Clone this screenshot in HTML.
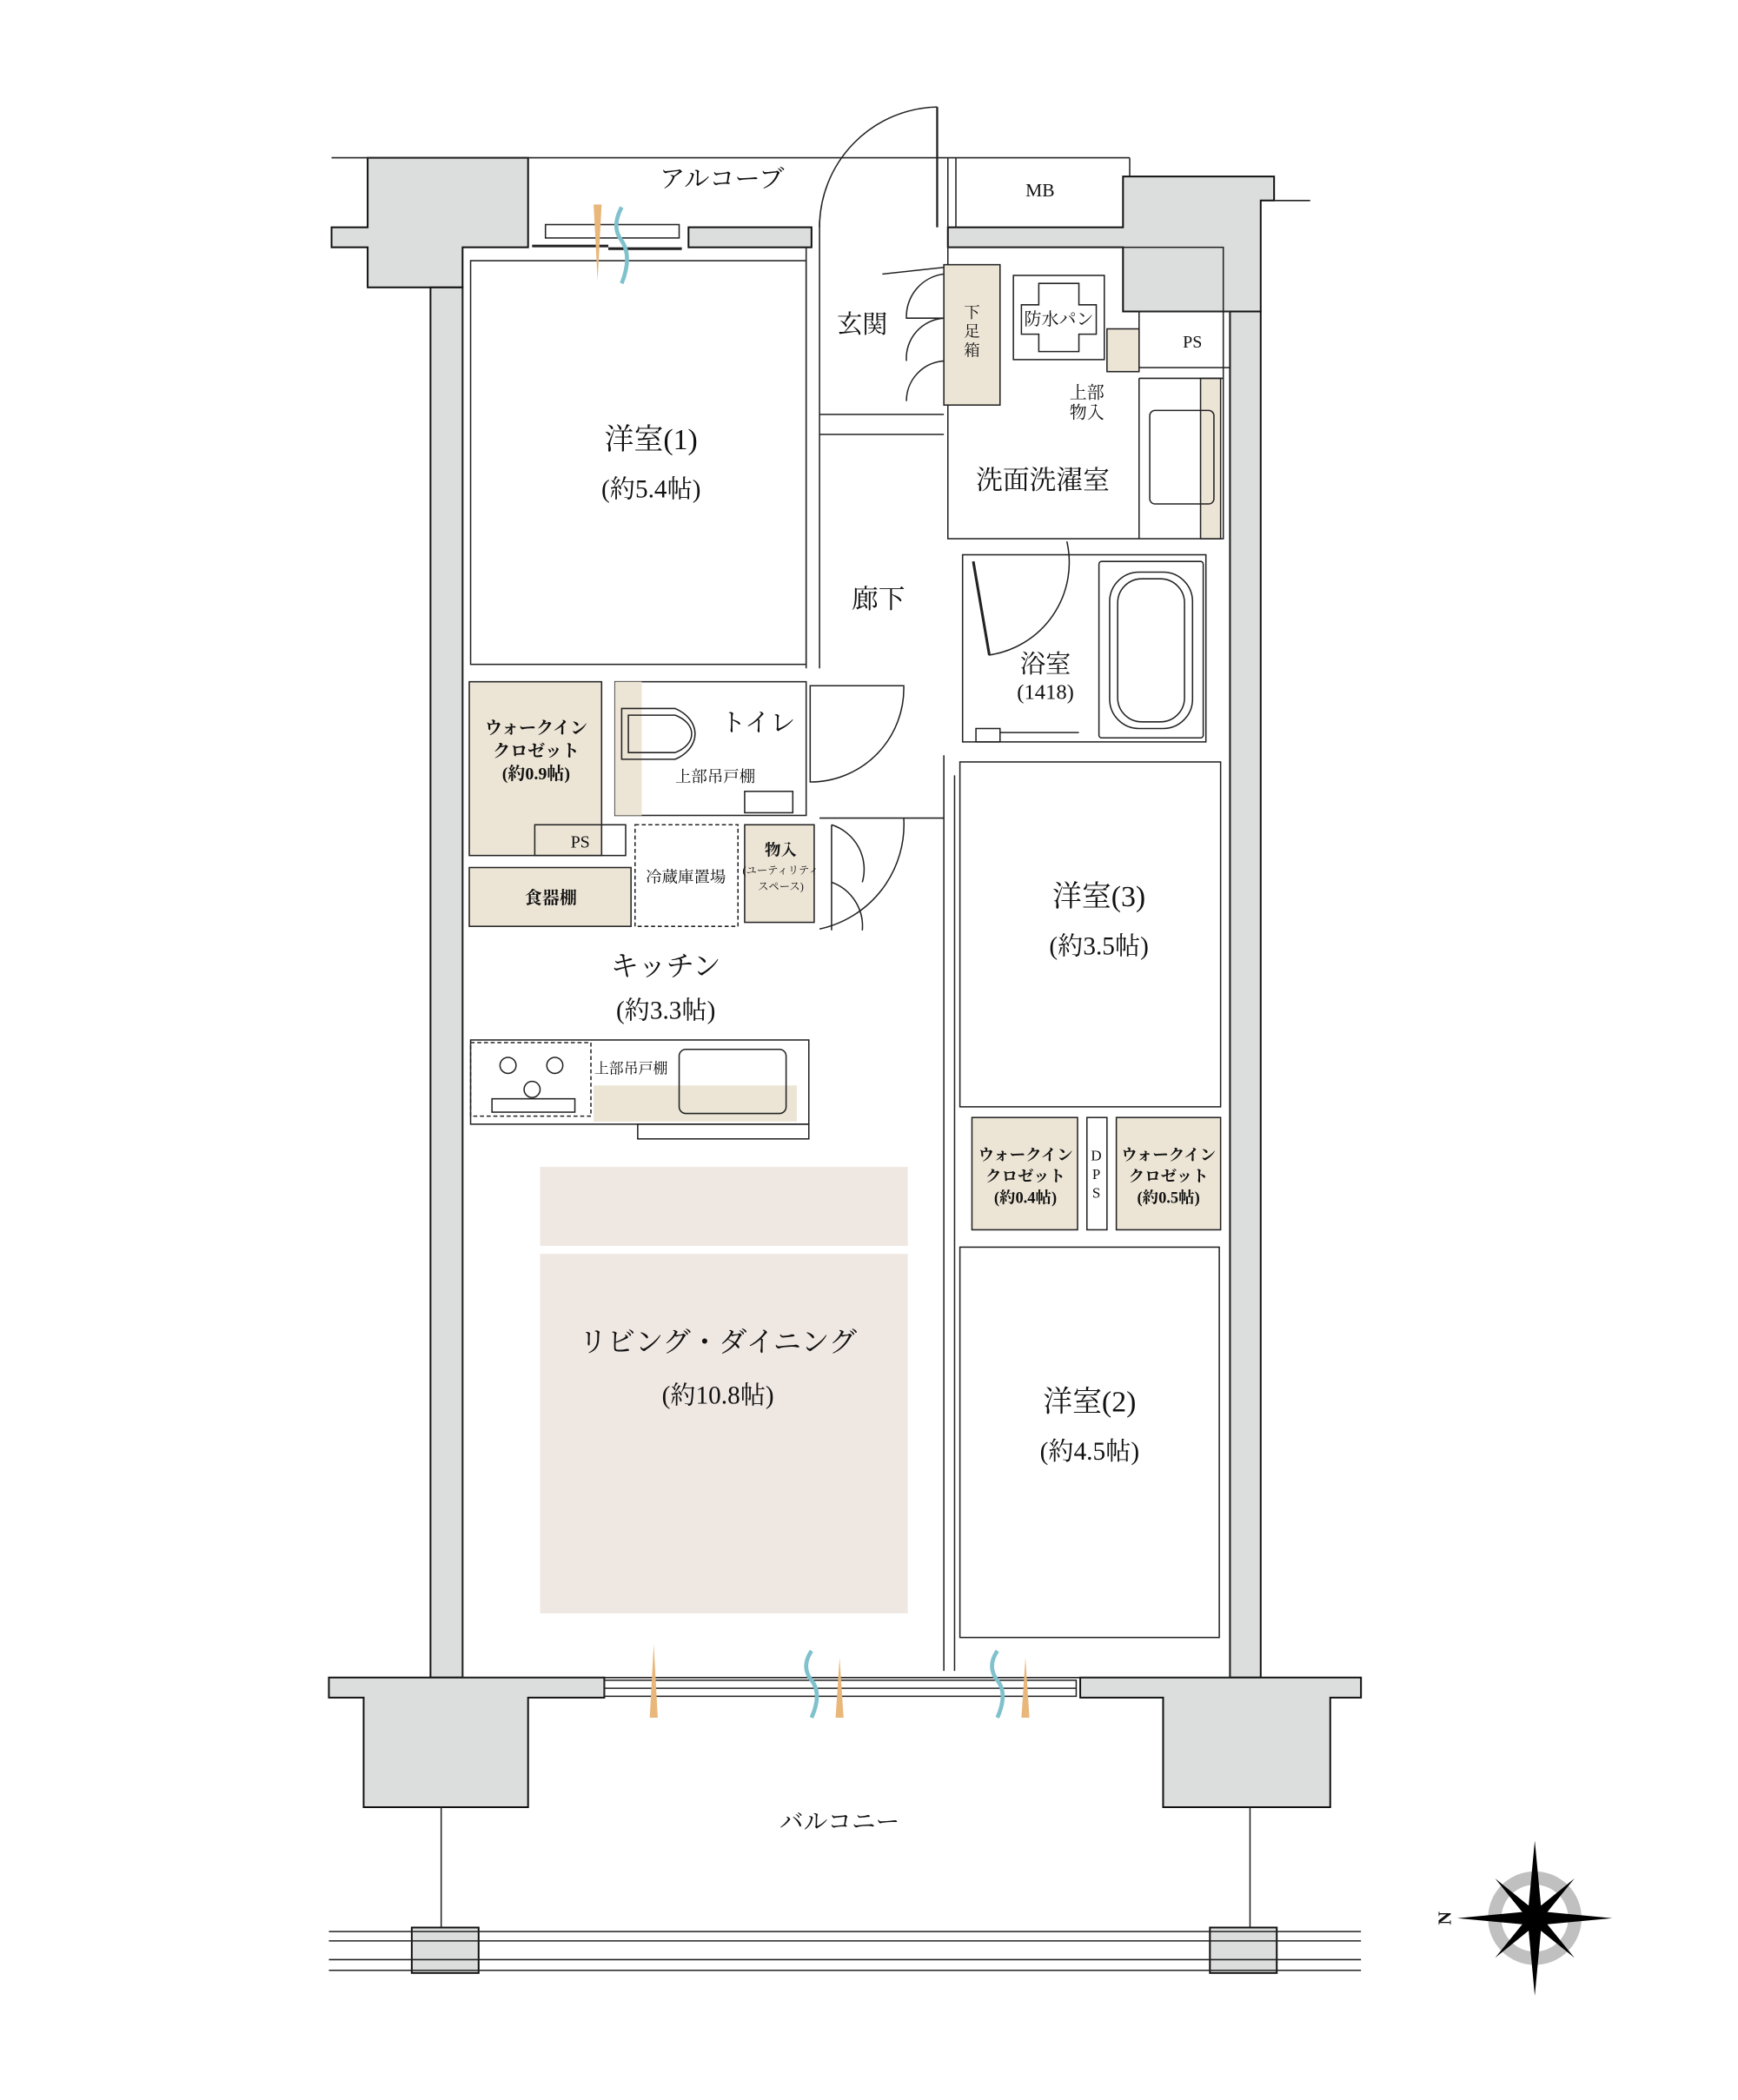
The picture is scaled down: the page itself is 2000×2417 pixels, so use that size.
<!DOCTYPE html>
<html><head><meta charset="utf-8"><style>
html,body{margin:0;padding:0;background:#fff}
svg{display:block}
text{font-family:"Liberation Serif","Noto Serif CJK JP","Noto Serif CJK SC",serif;fill:#111}
</style></head><body>
<svg width="2000" height="2417" viewBox="0 0 1300 1571" xmlns="http://www.w3.org/2000/svg">
<g stroke="#111" stroke-width="1.3" fill="#dcdddd">
<path d="M248,170 L275,170 L275,118 L395,118 L395,185 L346,185 L346,215 L322,215 L322,215 L275,215 L275,185 L248,185 Z"/>
<rect x="322" y="215" width="24" height="1040"/>
<path d="M709,170 L840,170 L840,132 L953,132 L953,150 L943,150 L943,233 L920,233 L840,233 L840,185 L709,185 Z"/>
<rect x="920" y="233" width="23" height="1022"/>
<rect x="515" y="170" width="92" height="15"/>
<path d="M246,1255 L346,1255 L346,1255 L452,1255 L452,1270 L395,1270 L395,1352 L272,1352 L272,1270 L246,1270 Z"/>
<path d="M808,1255 L1018,1255 L1018,1270 L995,1270 L995,1352 L870,1352 L870,1270 L808,1270 Z"/>
<rect x="308" y="1442" width="50" height="34"/>
<rect x="905" y="1442" width="50" height="34"/>
</g>
<g stroke="#222" stroke-width="1" fill="none">
<line x1="953" y1="150" x2="980" y2="150"/>
<line x1="248" y1="118" x2="845" y2="118"/>
<line x1="845" y1="118" x2="845" y2="132"/>
<line x1="709" y1="118" x2="709" y2="170"/>
<line x1="715" y1="118" x2="715" y2="170"/>
<line x1="330" y1="1352" x2="330" y2="1442"/>
<line x1="935" y1="1352" x2="935" y2="1442"/>
<line x1="246" y1="1445" x2="1018" y2="1445"/>
<line x1="246" y1="1452" x2="1018" y2="1452"/>
<line x1="246" y1="1466" x2="1018" y2="1466"/>
<line x1="246" y1="1474" x2="1018" y2="1474"/>
<rect x="408" y="168" width="100" height="10"/>
<line x1="398" y1="184" x2="455" y2="184" stroke-width="2"/>
<line x1="455" y1="186" x2="510" y2="186" stroke-width="2"/>
<line x1="701" y1="80" x2="701" y2="170" stroke-width="1.5"/>
<path d="M701,80 A90,90 0 0 0 613,170"/>
<line x1="613" y1="165" x2="613" y2="500"/>
<line x1="603" y1="185" x2="603" y2="500"/>
<line x1="346" y1="1255" x2="920" y2="1255"/>
<path d="M346,215 L346,1255 M920,233 L920,1255"/>
<rect x="452" y="1257" width="353" height="12"/>
<line x1="452" y1="1263" x2="805" y2="1263"/>
</g>
<g stroke="#222" stroke-width="1" fill="none">
<rect x="352" y="195" width="251" height="302"/>
<line x1="613" y1="310" x2="706" y2="310"/>
<line x1="613" y1="325" x2="706" y2="325"/>
<rect x="709" y="185" width="206" height="218"/>
<rect x="720" y="415" width="182" height="140"/>
<rect x="822" y="420" width="78" height="132" rx="2"/>
<rect x="830" y="428" width="62" height="117" rx="22"/>
<rect x="836" y="433" width="50" height="107" rx="18"/>
<rect x="730" y="545" width="18" height="10"/>
<line x1="748" y1="548" x2="807" y2="548"/>
<path d="M728,420 L740,490 A70,70 0 0 0 798,405"/>
<line x1="728" y1="420" x2="740" y2="490" stroke-width="2"/>
<rect x="718" y="570" width="195" height="258"/>
<line x1="706" y1="565" x2="706" y2="1250"/>
<line x1="714" y1="580" x2="714" y2="1250"/>
<rect x="718" y="933" width="194" height="292"/>
<rect x="351" y="510" width="99" height="130" fill="#ece5d6"/>
<rect x="460" y="510" width="143" height="100"/>
<rect x="460" y="510" width="20" height="100" fill="#ece5d6" stroke="none"/>
<path d="M465,530 L505,530 A30,22 0 0 1 505,568 L465,568 Z"/>
<path d="M470,535 L505,535 A24,16 0 0 1 505,563 L470,563 Z"/>
<rect x="557" y="592" width="36" height="16"/>
<path d="M606,513 L606,585 A70,70 0 0 0 676,513 Z"/>
<rect x="400" y="617" width="68" height="23"/>
<rect x="351" y="649" width="121" height="44" fill="#ece5d6"/>
<rect x="475" y="617" width="77" height="76" stroke-dasharray="3,2"/>
<rect x="557" y="617" width="52" height="73" fill="#ece5d6"/>
<path d="M622,617 L622,696 M622,617 A35,35 0 0 1 645,660 M622,660 A35,35 0 0 1 645,696"/>
<path d="M613,612 L706,612 M676,612 A80,80 0 0 1 613,695"/>
<rect x="352" y="778" width="253" height="63"/>
<rect x="352" y="780" width="90" height="55" stroke-dasharray="3,2"/>
<rect x="444" y="812" width="152" height="27" fill="#ece5d6" stroke="none"/>
<rect x="508" y="785" width="80" height="48" rx="5"/>
<rect x="477" y="841" width="128" height="11"/>
<circle cx="380" cy="797" r="6"/><circle cx="415" cy="797" r="6"/><circle cx="398" cy="815" r="6"/>
<rect x="368" y="822" width="62" height="10"/>
<rect x="727" y="836" width="79" height="84" fill="#ece5d6"/>
<rect x="813" y="836" width="15" height="84"/>
<rect x="835" y="836" width="78" height="84" fill="#ece5d6"/>
<rect x="706" y="198" width="42" height="105" fill="#ece5d6"/>
<path d="M706,200 L660,205 M706,238 A30,30 0 0 0 678,270 M706,270 A30,30 0 0 0 678,300 M706,205 A32,32 0 0 0 678,238 L706,238"/>
<rect x="758" y="206" width="68" height="63"/>
<path d="M777,212 L807,212 L807,228 L820,228 L820,250 L807,250 L807,263 L777,263 L777,250 L764,250 L764,228 L777,228 Z"/>
<rect x="828" y="246" width="24" height="32" fill="#ece5d6"/>
<rect x="852" y="233" width="68" height="42"/>
<rect x="898" y="283" width="15" height="120" fill="#ece5d6"/>
<rect x="860" y="307" width="48" height="70" rx="4"/>
<line x1="852" y1="283" x2="852" y2="403"/>
<line x1="852" y1="283" x2="915" y2="283"/>
</g>
<rect x="404" y="873" width="275" height="59" fill="#efe7e2"/>
<rect x="404" y="938" width="275" height="269" fill="#efe7e2"/>
<g fill="#e9b77a"><polygon points="444,153 450,153 447,210"/><polygon points="486,1285 492,1285 489,1230"/><polygon points="625,1285 631,1285 628,1240"/><polygon points="764,1285 770,1285 767,1240"/></g>
<g stroke="#7fc1cc" stroke-width="3" fill="none"><path d="M465,155 q-8,15 0,25 q8,12 0,32"/><path d="M607,1235 q-8,12 0,22 q8,10 0,28"/><path d="M746,1235 q-8,12 0,22 q8,10 0,28"/></g>
<g transform="translate(1148,1435)">
<circle r="30" fill="none" stroke="#c0c0c0" stroke-width="10"/>
<polygon points="0,-58 5,-5 0,0 -5,-5" fill="#000"/><polygon points="0,58 5,5 0,0 -5,5" fill="#000"/>
<polygon points="-58,0 -5,-5 0,0 -5,5" fill="#000"/><polygon points="58,0 5,-5 0,0 5,5" fill="#000"/>
<g transform="rotate(45)"><polygon points="0,-42 4,-4 0,0 -4,-4" fill="#000"/><polygon points="0,42 4,4 0,0 -4,4" fill="#000"/><polygon points="-42,0 -4,-4 0,0 -4,4" fill="#000"/><polygon points="42,0 4,-4 0,0 4,4" fill="#000"/></g>
</g>
<text x="1082" y="1435" font-size="14" font-weight="bold" transform="rotate(-90 1082 1435)" text-anchor="middle" dominant-baseline="middle">N</text>
<g text-anchor="middle">
<text x="540" y="140" font-size="19">アルコーブ</text>
<text x="778" y="147" font-size="14">MB</text>
<text x="892" y="260" font-size="13">PS</text>
<text x="645" y="249" font-size="19">玄関</text>
<text x="727" y="238" font-size="12">下</text><text x="727" y="252" font-size="12">足</text><text x="727" y="266" font-size="12">箱</text>
<text x="792" y="243" font-size="13">防水パン</text>
<text x="813" y="298" font-size="13">上部</text><text x="813" y="313" font-size="13">物入</text>
<text x="780" y="366" font-size="20">洗面洗濯室</text>
<text x="487" y="336" font-size="22">洋室(1)</text>
<text x="487" y="372" font-size="19">(約5.4帖)</text>
<text x="657" y="455" font-size="20">廊下</text>
<text x="782" y="503" font-size="19">浴室</text>
<text x="782" y="523" font-size="16">(1418)</text>
<text x="567" y="547" font-size="19">トイレ</text>
<text x="535" y="585" font-size="12">上部吊戸棚</text>
<text x="401" y="549" font-size="13" font-weight="bold">ウォークイン</text>
<text x="401" y="566" font-size="13" font-weight="bold">クロゼット</text>
<text x="401" y="583" font-size="13" font-weight="bold">(約0.9帖)</text>
<text x="434" y="634" font-size="13">PS</text>
<text x="412" y="676" font-size="13" font-weight="bold">食器棚</text>
<text x="513" y="660" font-size="12">冷蔵庫置場</text>
<text x="584" y="640" font-size="12" font-weight="bold">物入</text>
<text x="584" y="654" font-size="8">(ユーティリティ</text>
<text x="584" y="666" font-size="8">スペース)</text>
<text x="822" y="678" font-size="22">洋室(3)</text>
<text x="822" y="714" font-size="19">(約3.5帖)</text>
<text x="498" y="730" font-size="21">キッチン</text>
<text x="498" y="762" font-size="19">(約3.3帖)</text>
<text x="472" y="803" font-size="11" text-anchor="middle">上部吊戸棚</text>
<text x="767" y="868" font-size="12" font-weight="bold">ウォークイン</text>
<text x="767" y="884" font-size="12" font-weight="bold">クロゼット</text>
<text x="767" y="900" font-size="12" font-weight="bold">(約0.4帖)</text>
<text x="820" y="868" font-size="11">D</text><text x="820" y="882" font-size="11">P</text><text x="820" y="896" font-size="11">S</text>
<text x="874" y="868" font-size="12" font-weight="bold">ウォークイン</text>
<text x="874" y="884" font-size="12" font-weight="bold">クロゼット</text>
<text x="874" y="900" font-size="12" font-weight="bold">(約0.5帖)</text>
<text x="537" y="1011" font-size="21">リビング・ダイニング</text>
<text x="537" y="1050" font-size="19">(約10.8帖)</text>
<text x="815" y="1056" font-size="22">洋室(2)</text>
<text x="815" y="1092" font-size="19">(約4.5帖)</text>
<text x="628" y="1369" font-size="18">バルコニー</text>
</g>
</svg>
</body></html>
